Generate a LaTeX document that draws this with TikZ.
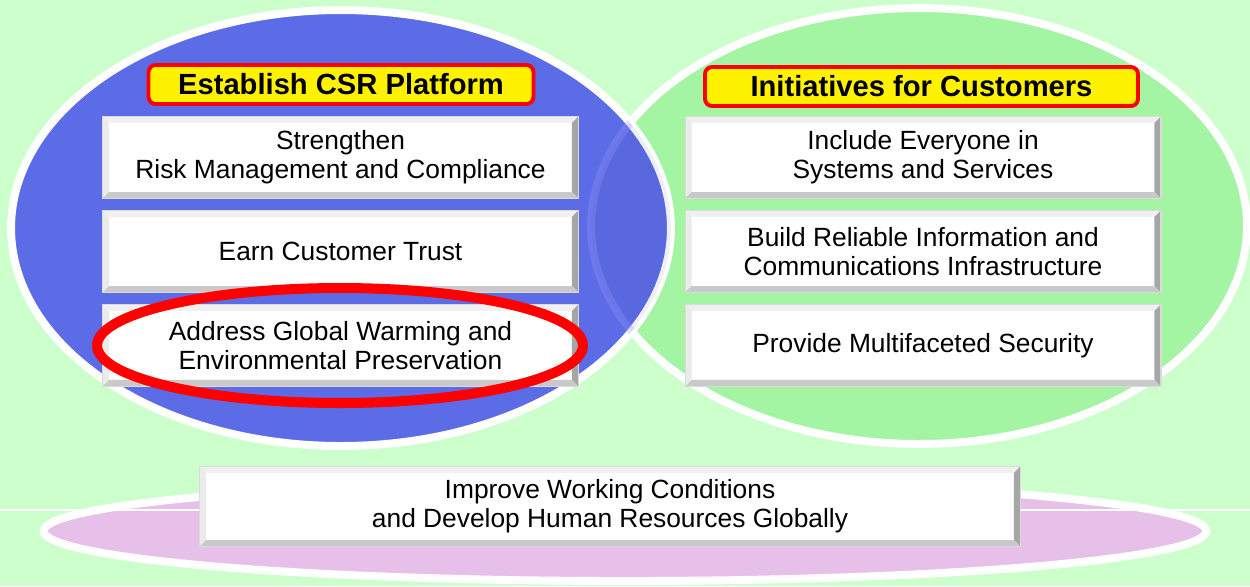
\documentclass[tikz,border=0pt]{standalone}
\usepackage{fontspec}
\setmainfont{Liberation Sans}
\usetikzlibrary{shapes.geometric, positioning, calc}
\definecolor{bggreen}{RGB}{204,255,204}
\definecolor{csrblue}{RGB}{92,108,230}
\definecolor{custgreen}{RGB}{163,244,163}
\definecolor{hrpink}{RGB}{230,192,232}
\definecolor{boxrim}{RGB}{218,218,218}
\tikzstyle{region} = [ellipse, draw=white, line width=4.5pt, inner sep=0pt]
\tikzstyle{goal} = [rectangle, minimum width=9.5cm, minimum height=1.62cm, text centered, align=center, fill=white, draw=boxrim, line width=0.6pt, font=\fontsize{15}{16.4}\selectfont]
\tikzstyle{headline} = [rectangle, rounded corners=4pt, minimum height=0.78cm, fill=yellow, draw=red, line width=2.2pt, font=\bfseries\fontsize{16.6}{18}\selectfont]

\begin{document}
\begin{tikzpicture}[x=0.02cm,y=-0.02cm,on grid]
	\useasboundingbox (0,0) rectangle (1250,586);
	\fill[bggreen] (0,0) rectangle (1250,586);
	% the two big ovals
	\node[region, fill=custgreen, minimum width=13.12cm, minimum height=8.72cm](cust) at (919,226) {};
	\node[region, fill=csrblue, minimum width=13.2cm, minimum height=8.72cm](csr) at (341,228) {};
	\begin{scope}
		\clip (csr.center) ellipse [x radius=6.6cm, y radius=4.36cm];
		\fill[black!40!csrblue, opacity=0.08] (cust.center) ellipse [x radius=6.56cm, y radius=4.36cm];
		\draw[blue!40!white, opacity=0.3, line width=4.5pt] (cust.center) ellipse [x radius=6.56cm, y radius=4.36cm];
	\end{scope}
	% bottom oval
	\node[region, fill=hrpink, minimum width=23.26cm, minimum height=2cm](hr) at (625,531) {};
	\draw[white, line width=0.8pt] (0,510) -- (1250,510);
	% headings
	\node[headline, minimum width=7.7cm](t_1) at (341,84.5) {Establish CSR Platform};
	\node[headline, minimum width=8.66cm](t_2) at (921.5,86.5) {Initiatives for Customers};
	% boxes
	\node[goal](s_1) at (340.5,157.5) {Strengthen\\Risk Management and Compliance};
	\node[goal](s_2)[below=1.88cm of s_1] {Earn Customer Trust};
	\node[goal](s_3)[below=1.88cm of s_2] {Address Global Warming and\\Environmental Preservation};
	\node[goal](c_1) at (923,157.5) {Include Everyone in\\Systems and Services};
	\node[goal](c_2)[below=1.88cm of c_1] {Build Reliable Information and\\Communications Infrastructure};
	\node[goal](c_3)[below=1.88cm of c_2] {Provide Multifaceted Security};
	\node[goal, minimum width=16.4cm, minimum height=1.58cm](h_1) at (610,506.5) {Improve Working Conditions\\and Develop Human Resources Globally};
	% bevels
	\foreach \b in {s_1,s_2,s_3,c_1,c_2,c_3,h_1} {
		\fill[black!6] (\b.north west) -- (\b.north east) -- ($(\b.north east)+(-0.13cm,-0.13cm)$) -- ($(\b.north west)+(0.13cm,-0.13cm)$) -- cycle;
		\fill[black!8] (\b.north west) -- (\b.south west) -- ($(\b.south west)+(0.13cm,0.13cm)$) -- ($(\b.north west)+(0.13cm,-0.13cm)$) -- cycle;
		\fill[black!35] (\b.north east) -- (\b.south east) -- ($(\b.south east)+(-0.13cm,0.13cm)$) -- ($(\b.north east)+(-0.13cm,-0.13cm)$) -- cycle;
		\fill[black!21] (\b.south west) -- (\b.south east) -- ($(\b.south east)+(-0.13cm,0.13cm)$) -- ($(\b.south west)+(0.13cm,0.13cm)$) -- cycle;
		\draw[boxrim, line width=0.6pt] (\b.north west) rectangle (\b.south east);
	}
	% highlight
	\node[ellipse, draw=red, line width=5.7pt, inner sep=0pt, minimum width=9.72cm, minimum height=2.3cm](ring) at (340,345.5) {};
\end{tikzpicture}
\end{document}
